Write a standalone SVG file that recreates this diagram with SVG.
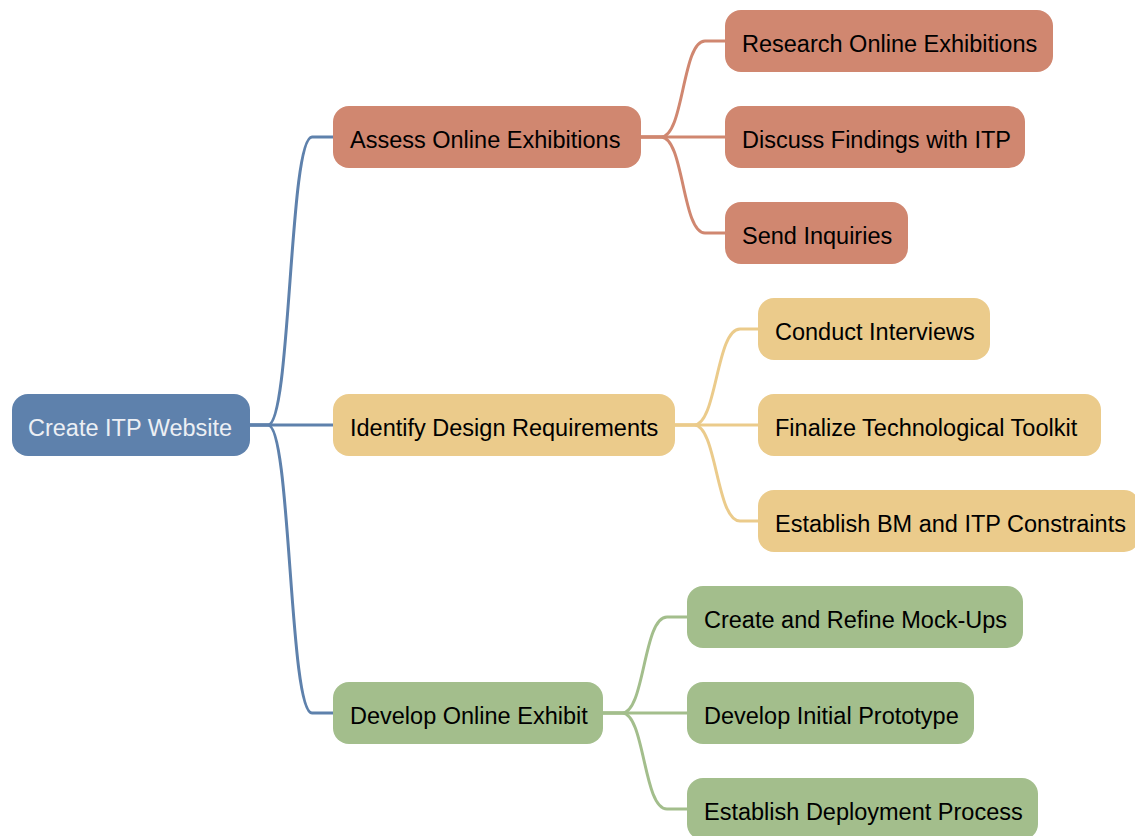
<svg xmlns="http://www.w3.org/2000/svg" width="1135" height="836" viewBox="0 0 1135 836">
<style>
text{font-family:"Liberation Sans",Arial,sans-serif;font-size:23.5px;fill:#000}
.root rect{fill:#5E81AC}
.root text{fill:#ECEFF4}
.o rect{fill:#D08770}
.y rect{fill:#EBCB8B}
.g rect{fill:#A3BE8C}
#connectors path{fill:none;stroke-width:3}
.co{stroke:#D08770}
.cy{stroke:#EBCB8B}
.cg{stroke:#A3BE8C}
.cb{stroke:#5E81AC}
</style>
<rect width="1135" height="836" fill="#fff"/>
<g id="connectors">
<path class="cb" d="M250,425 L268,425 C291,425 289,137 312,137 L333,137"/>
<path class="cb" d="M250,425 L333,425"/>
<path class="cb" d="M250,425 L268,425 C291,425 289,713 312,713 L333,713"/>
<path class="co" d="M641,137 L661,137 C684,137 682,41 705,41 L725,41"/>
<path class="co" d="M641,137 L725,137"/>
<path class="co" d="M641,137 L661,137 C684,137 682,233 705,233 L725,233"/>
<path class="cy" d="M675,425 L694,425 C717,425 716,329 740,329 L758,329"/>
<path class="cy" d="M675,425 L758,425"/>
<path class="cy" d="M675,425 L694,425 C717,425 716,521 740,521 L758,521"/>
<path class="cg" d="M603,713 L622,713 C645,713 643,617 667,617 L687,617"/>
<path class="cg" d="M603,713 L687,713"/>
<path class="cg" d="M603,713 L622,713 C645,713 643,809 667,809 L687,809"/>
</g>
<g id="n-root" class="root"><rect x="12" y="394" width="238" height="62" rx="16"/><text x="28" y="435.5">Create ITP Website</text></g>
<g id="n-assess" class="o"><rect x="333" y="106" width="308" height="62" rx="16"/><text x="350" y="147.5">Assess Online Exhibitions</text></g>
<g id="n-identify" class="y"><rect x="333" y="394" width="342" height="62" rx="16"/><text x="350" y="435.5">Identify Design Requirements</text></g>
<g id="n-develop" class="g"><rect x="333" y="682" width="270" height="62" rx="16"/><text x="350" y="723.5">Develop Online Exhibit</text></g>
<g id="n-research" class="o"><rect x="725" y="10" width="328" height="62" rx="16"/><text x="742" y="51.5">Research Online Exhibitions</text></g>
<g id="n-discuss" class="o"><rect x="725" y="106" width="300" height="62" rx="16"/><text x="742" y="147.5">Discuss Findings with ITP</text></g>
<g id="n-send" class="o"><rect x="725" y="202" width="183" height="62" rx="16"/><text x="742" y="243.5">Send Inquiries</text></g>
<g id="n-conduct" class="y"><rect x="758" y="298" width="232" height="62" rx="16"/><text x="775" y="339.5">Conduct Interviews</text></g>
<g id="n-finalize" class="y"><rect x="758" y="394" width="343" height="62" rx="16"/><text x="775" y="435.5">Finalize Technological Toolkit</text></g>
<g id="n-establishbm" class="y"><rect x="758" y="490" width="382" height="62" rx="16"/><text x="775" y="531.5">Establish BM and ITP Constraints</text></g>
<g id="n-mockups" class="g"><rect x="687" y="586" width="336" height="62" rx="16"/><text x="704" y="627.5">Create and Refine Mock-Ups</text></g>
<g id="n-prototype" class="g"><rect x="687" y="682" width="287" height="62" rx="16"/><text x="704" y="723.5">Develop Initial Prototype</text></g>
<g id="n-deploy" class="g"><rect x="687" y="778" width="351" height="62" rx="16"/><text x="704" y="819.5">Establish Deployment Process</text></g>
</svg>
